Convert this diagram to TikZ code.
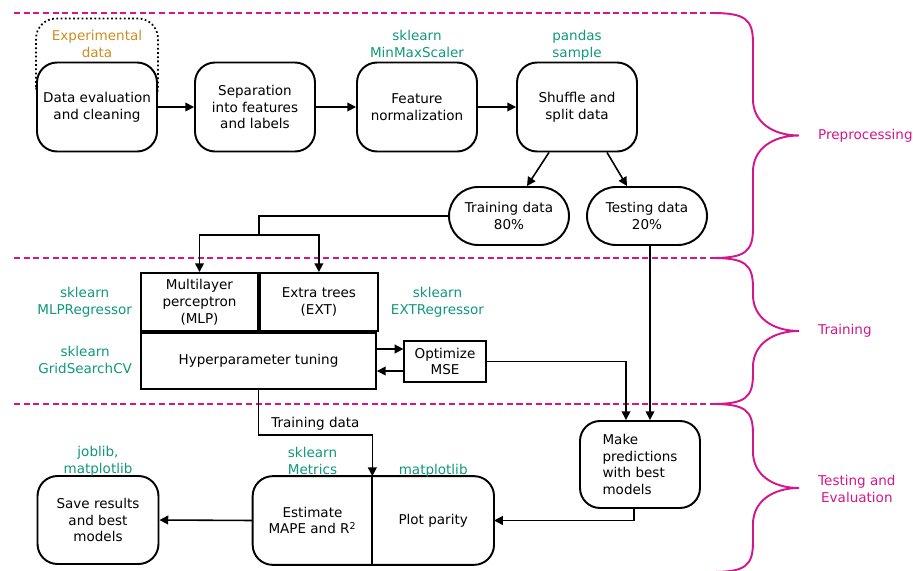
\documentclass[tikz,border=0pt]{standalone}
\usepackage{fontspec}
\setmainfont{DejaVu Sans}
\usetikzlibrary{positioning,backgrounds,arrows.meta}
\definecolor{phasepink}{RGB}{212,22,140}
\definecolor{libgreen}{RGB}{16,152,122}
\definecolor{dataorange}{RGB}{206,140,32}

\begin{document}
\begin{tikzpicture}[x=0.02cm,y=-0.02cm,font=\fontsize{7.7}{9.6}\selectfont,
    >={Triangle[length=5pt,width=5pt]},
    roundbox/.style={draw,line width=1.1pt,rounded corners=0.4cm,fill=white,align=center,minimum width=2.4cm,minimum height=1.78cm,inner sep=1pt},
    pillbox/.style={draw,line width=1.1pt,rounded corners=0.58cm,fill=white,align=center,minimum width=2.4cm,minimum height=1.16cm},
    cellbox/.style={draw,line width=1.1pt,align=center,minimum height=1.16cm,inner sep=1pt},
    lib/.style={text=libgreen,align=center,inner sep=1pt,execute at end node=\vphantom{p}},
    flow/.style={line width=0.9pt},
    phaseline/.style={phasepink,line width=1pt,dash pattern=on 3.5pt off 2pt},
    phaselabel/.style={text=phasepink,align=center,anchor=west}]

    \useasboundingbox (0,0) rectangle (913,571);

    \foreach \yy in {13,258,404}
        \draw[phaseline] (14,\yy) -- (712,\yy);
    \foreach \tp/\bt in {13/258,258/404,404/572} {
        \pgfmathsetmacro{\md}{(\tp+\bt)/2}
        \draw[phasepink,line width=1.1pt] (712,\tp) .. controls (745,\tp) and (753,{\tp+6}) .. (753,{\tp+30})
            -- (753,{\md-36}) .. controls (753,{\md-14}) and (772,\md) .. (799,\md)
            .. controls (772,\md) and (753,{\md+14}) .. (753,{\md+36})
            -- (753,{\bt-30}) .. controls (753,{\bt-6}) and (745,\bt) .. (712,\bt);
    }
    \node[phaselabel] (prep) at (812,136) {Preprocessing};
    \node[phaselabel] (trn) at (812,331) {Training};
    \node[phaselabel] (tev) at (812,489) {Testing and\\Evaluation};

    \node[roundbox] (clean) at (97,107) {Data evaluation\\and cleaning};
    \node[roundbox] (sep) at (255,107) {Separation\\into features\\and labels};
    \node[roundbox] (norm) at (417,107) {Feature\\normalization};
    \node[roundbox] (shuf) at (577,107) {Shuffle and\\split data};

    \node[lib,text=dataorange,above=-0.02cm of clean] (expt) {Experimental\\data};
    \node[lib,above=-0.02cm of norm] (normlib) {sklearn\\MinMaxScaler};
    \node[lib,above=-0.02cm of shuf] (shuflib) {pandas\\sample};

    \begin{pgfonlayer}{background}
        \draw[line width=1pt,dash pattern=on 1pt off 1.4pt,rounded corners=0.4cm]
        (clean.west) rectangle ([yshift=0.86cm]clean.north east);
    \end{pgfonlayer}

    \node[pillbox] (train) at (509,216) {Training data\\80\%};
    \node[pillbox] (test) at (647,216) {Testing data\\20\%};

    \node[cellbox,minimum width=2.34cm] (mlp) at (199.5,302) {Multilayer\\perceptron\\(MLP)};
    \node[cellbox,minimum width=2.36cm,anchor=west] (ext) at (mlp.east) {Extra trees\\(EXT)};
    \node[cellbox,minimum width=4.7cm,minimum height=1.12cm,anchor=north west] (hyper) at (mlp.south west) {Hyperparameter tuning};
    \node[draw,line width=0.7pt,align=center,minimum width=1.64cm,minimum height=0.82cm,inner sep=1pt] (opt) at (445,361.5) {Optimize\\MSE};

    \node[lib,left=0.12cm of mlp] (mlplib) {sklearn\\MLPRegressor};
    \node[lib,left=0.12cm of hyper] (gridlib) {sklearn\\GridSearchCV};
    \node[lib,right=0.2cm of ext] (extlib) {sklearn\\EXTRegressor};

    \node[roundbox,align=left,minimum height=1.74cm] (pred) at (640,464.5) {Make\\predictions\\with best\\models};
    \node[roundbox,minimum width=2.42cm,minimum height=1.76cm] (save) at (98,520) {Save results\\and best\\models};
    \node[align=center,minimum width=2.38cm,minimum height=1.76cm] (est) at (312.5,520.5) {Estimate\\MAPE and R\textsuperscript{2}};
    \node[align=center,minimum width=2.42cm,minimum height=1.76cm,anchor=west] (plot) at (est.east) {Plot parity};
    \draw[line width=1.1pt,rounded corners=0.4cm] (est.south west) rectangle (plot.north east);
    \draw[line width=1.1pt] (plot.north west) -- (plot.south west);

    \node[lib,above=-0.06cm of save] (savelib) {joblib,\\matplotlib};
    \node[lib,above=-0.06cm of est] (estlib) {sklearn\\Metrics};
    \node[lib,above=-0.06cm of plot] (plotlib) {matplotlib};

    \draw[flow,->] (clean.east) -- (sep.west);
    \draw[flow,->] (sep.east) -- (norm.west);
    \draw[flow,->] (norm.east) -- (shuf.west);
    \draw[flow,->] ([xshift=-0.56cm]shuf.south) -- ([xshift=0.36cm]train.north);
    \draw[flow,->] ([xshift=0.6cm]shuf.south) -- ([xshift=-0.4cm]test.north);

    \coordinate (fork) at ([yshift=0.74cm]mlp.north east);
    \draw[flow] (train.west) -| (fork);
    \draw[flow,->] (fork) -| (mlp.north);
    \draw[flow,->] (fork) -| (ext.north);

    \coordinate (optin) at ([yshift=0.25cm]opt.west);
    \coordinate (optout) at ([yshift=-0.19cm]opt.west);
    \draw[flow,->] (optin -| hyper.east) -- (optin);
    \draw[flow,->] (optout) -- (optout -| hyper.east);

    \coordinate (predin) at ([xshift=-0.28cm]pred.north);
    \coordinate (predtest) at ([xshift=0.2cm]pred.north);
    \draw[flow,->] (opt.east) -| (predin);
    \draw[flow,->] (predtest |- test.south) -- (predtest);

    \draw[flow,->] (hyper.south) -- ++(0,45) coordinate (tdbend) -- (tdbend -| plot.north west)
        node[pos=0.5,above,inner sep=2pt] (tdlabel) {Training data} -- (plot.north west);
    \draw[flow,->] (est.west) -- (save.east);
    \draw[flow,->] ([xshift=-0.12cm]pred.south) |- (plot.east);
\end{tikzpicture}
\end{document}
